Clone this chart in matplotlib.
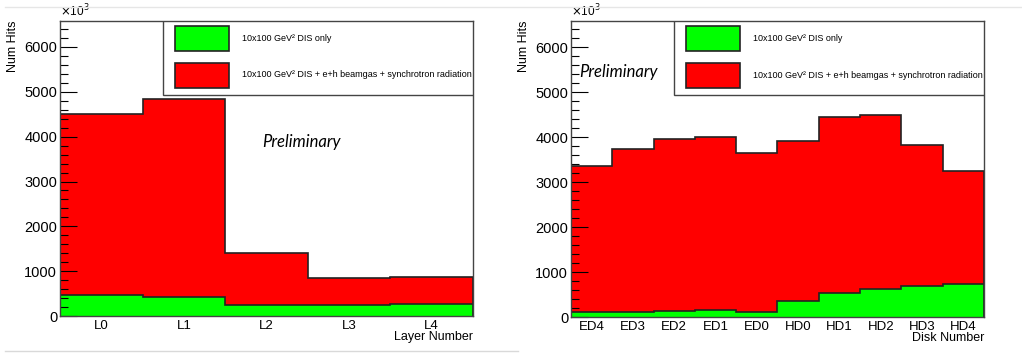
import matplotlib.pyplot as plt
from matplotlib.lines import Line2D
from matplotlib.patches import Rectangle
from matplotlib.ticker import MultipleLocator, NullLocator
import numpy as np

# left panel: barrel layers
layer_labels = ["L0", "L1", "L2", "L3", "L4"]
layer_dis = [470, 415, 240, 255, 275]
layer_all = [4510, 4850, 1410, 855, 880]

# right panel: endcap / hadron disks
disk_labels = ["ED4", "ED3", "ED2", "ED1", "ED0", "HD0", "HD1", "HD2", "HD3", "HD4"]
disk_dis = [105, 118, 130, 145, 105, 355, 540, 620, 680, 740]
disk_all = [3350, 3730, 3960, 4000, 3650, 3920, 4450, 4480, 3830, 3240]

legend_dis = "10x100 GeV\u00b2 DIS only"
legend_all = "10x100 GeV\u00b2 DIS + e+h beamgas + synchrotron radiation"

plt.rcParams["font.family"] = ["Liberation Sans", "DejaVu Sans"]

fig = plt.figure(figsize=(10.22, 3.54), dpi=100)


def draw_panel(rect, labels, dis, total, xlabel, prelim_xy):
    ax = fig.add_axes(rect)
    edges = np.arange(len(labels) + 1)
    ax.stairs(total, edges, fill=True, color="#ff0000")
    ax.stairs(total, edges, color="#222222", linewidth=1.2)
    ax.stairs(dis, edges, fill=True, color="#00ff00")
    ax.stairs(dis, edges, color="#222222", linewidth=1.2)

    ax.set_xlim(0, len(labels))
    ax.set_ylim(0, 6580)
    ax.set_xticks(edges[:-1] + 0.5)
    ax.set_xticklabels(labels, fontsize=9.5)
    ax.xaxis.set_minor_locator(NullLocator())
    ax.tick_params(axis="x", length=0, pad=3)

    ax.yaxis.set_major_locator(MultipleLocator(1000))
    ax.yaxis.set_minor_locator(MultipleLocator(200))
    ax.tick_params(axis="y", which="major", direction="in", length=12, labelsize=10.5,
                   width=0.8, pad=2)
    ax.tick_params(axis="y", which="minor", direction="in", length=6, width=0.8)

    for spine in ax.spines.values():
        spine.set_color("#444444")
        spine.set_linewidth(1.0)

    ax.set_ylabel("Num Hits", fontsize=9, loc="top", labelpad=4)
    ax.set_xlabel(xlabel, fontsize=9, loc="right", labelpad=-1)
    ax.text(0.0, 1.005, r"$\times$10$^{3}$", transform=ax.transAxes, fontsize=8.5,
            ha="left", va="bottom")

    # legend box in upper right corner
    lx0, ly0 = 0.25, 0.75
    box = Rectangle((lx0, ly0), 1 - lx0, 1 - ly0, transform=ax.transAxes,
                    facecolor="white", edgecolor="#444444", linewidth=1.0, zorder=5)
    ax.add_patch(box)
    for i, (col, txt) in enumerate([("#00ff00", legend_dis), ("#ff0000", legend_all)]):
        yb = 0.899 - i * 0.125
        ax.add_patch(Rectangle((lx0 + 0.028, yb), 0.132, 0.085, transform=ax.transAxes,
                               facecolor=col, edgecolor="#222222", linewidth=1.2, zorder=6))
        ax.text(lx0 + 0.19, yb + 0.043, txt, transform=ax.transAxes, fontsize=6.5,
                va="center", ha="left", zorder=7)

    ax.text(prelim_xy[0], prelim_xy[1], "Preliminary", transform=ax.transAxes,
            fontsize=12, style="italic", family=["Lato", "DejaVu Sans"],
            ha="left", va="center")
    return ax


draw_panel([0.0587, 0.1073, 0.4041, 0.8334], layer_labels, layer_dis, layer_all,
           "Layer Number", (0.49, 0.59))
draw_panel([0.5587, 0.1045, 0.4041, 0.8362], disk_labels, disk_dis, disk_all,
           "Disk Number", (0.02, 0.828))

# light separator lines from the screenshot
fig.add_artist(Line2D([0.005, 1.0], [0.981, 0.981], transform=fig.transFigure,
                      color="#e6e6e6", linewidth=1))
fig.add_artist(Line2D([0.005, 0.507], [0.008, 0.008], transform=fig.transFigure,
                      color="#d9d9d9", linewidth=1))

fig.savefig("out.png", dpi=100)
